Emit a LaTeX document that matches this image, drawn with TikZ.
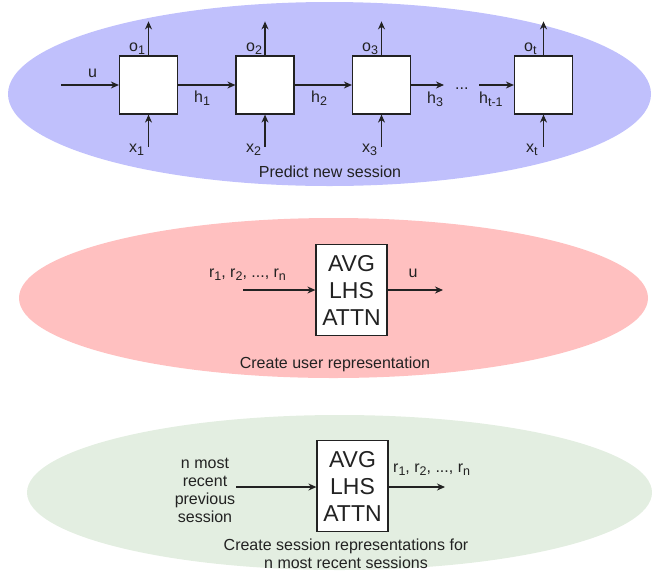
\documentclass[tikz,border=0pt]{standalone}
\usepackage{fontspec}
\setmainfont{Liberation Sans}
\usetikzlibrary{arrows.meta,shapes.geometric}

\definecolor{blueblob}{RGB}{192,192,252}
\definecolor{pinkblob}{RGB}{255,192,192}
\definecolor{greenblob}{RGB}{227,238,225}
\definecolor{ink}{RGB}{34,34,34}

% lowered, smaller index text
\newcommand\lowsub[1]{\raisebox{-0.45ex}{\fontsize{12.5}{12.5}\selectfont #1}}

\begin{document}
\begin{tikzpicture}[x=1pt,y=-1pt,
  font=\fontsize{16}{18}\selectfont,
  txt/.style={text=ink, inner sep=0pt},
  blob/.style={ellipse, draw=none, inner sep=0pt},
  cell/.style={draw=ink, line width=1.2pt, fill=white,
    minimum width=58pt, minimum height=58pt, inner sep=0pt},
  agg/.style={draw=ink, line width=1.2pt, fill=white,
    minimum width=71pt, minimum height=91pt, align=center,
    font=\fontsize{23}{27}\selectfont, text=ink, inner sep=0pt},
  flow/.style={draw=ink, line width=1.2pt, -{Stealth[length=8pt,width=7pt]}},
]
\useasboundingbox (0,0) rectangle (652,576);

% ---- background regions
\node[blob, fill=blueblob, minimum width=643pt, minimum height=184pt] (predict) at (329.5,94) {};
\node[blob, fill=pinkblob, minimum width=629pt, minimum height=160pt] (user) at (333.5,298) {};
\node[blob, fill=greenblob, minimum width=625pt, minimum height=155pt] (sess) at (339.5,492.5) {};

% ---- recurrent chain
\node[cell] (c1) at (148.5,85) {};
\node[cell] (c2) at (265,85) {};
\node[cell] (c3) at (381.5,85) {};
\node[cell] (c4) at (543.5,85) {};

\coordinate (uin) at (61,85);
\draw[flow] (uin) -- (c1.west);
\draw[flow] (c1.east) -- (c2.west);
\draw[flow] (c2.east) -- (c3.west);
\coordinate (h3end) at (444,85);
\coordinate (htstart) at (479,85);
\draw[flow] (c3.east) -- (h3end);
\draw[flow] (htstart) -- (c4.west);

% outputs leave upwards, inputs enter from below
\foreach \c in {c1,c2,c3,c4}{
  \coordinate (\c-out) at ([yshift=34pt]\c.north);
  \coordinate (\c-in) at ([yshift=-32pt]\c.south);
  \draw[flow] (\c.north) -- (\c-out);
  \draw[flow] (\c-in) -- (\c.south);
}

\node[txt, anchor=base west] (lu) at (88,77) {u};
\node[txt, anchor=base west] (lo1) at (129,51) {o\lowsub{1}};
\node[txt, anchor=base west] (lo2) at (246,51) {o\lowsub{2}};
\node[txt, anchor=base west] (lo3) at (362,51) {o\lowsub{3}};
\node[txt, anchor=base west] (lot) at (524,51) {o\lowsub{t}};
\node[txt, anchor=base west] (lx1) at (129,152) {x\lowsub{1}};
\node[txt, anchor=base west] (lx2) at (246,152) {x\lowsub{2}};
\node[txt, anchor=base west] (lx3) at (362,152) {x\lowsub{3}};
\node[txt, anchor=base west] (lxt) at (526,152) {x\lowsub{t}};
\node[txt, anchor=base west] (lh1) at (194,102) {h\lowsub{1}};
\node[txt, anchor=base west] (lh2) at (311,102) {h\lowsub{2}};
\node[txt, anchor=base west] (lh3) at (427,103) {h\lowsub{3}};
\node[txt, anchor=base west] (ldots) at (455,89) {...};
\node[txt, anchor=base west] (lht) at (479,103) {h\lowsub{t-1}};
\node[txt, anchor=base] (lpredict) at (330,177) {Predict new session};

% ---- user representation
\node[agg] (uagg) at (351.5,290) {AVG\\LHS\\ATTN};
\coordinate (rin) at (243,290);
\coordinate (uout) at (443,290);
\draw[flow] (rin) -- (uagg.west);
\draw[flow] (uagg.east) -- (uout);
\node[txt, anchor=base] (lrin) at (247.5,277) {r\lowsub{1}, r\lowsub{2}, ..., r\lowsub{n}};
\node[txt, anchor=base] (luout) at (413,277) {u};
\node[txt, anchor=base] (luser) at (335,368) {Create user representation};

% ---- session representations
\node[agg] (sagg) at (352.5,486) {AVG\\LHS\\ATTN};
\coordinate (sin) at (236,487);
\coordinate (sout) at (445,487);
\draw[flow] (sin) -- (sagg.west |- sin);
\draw[flow] (sagg.east |- sout) -- (sout);
\node[txt, align=center] (lsin) at (205,490) {n most\\recent\\previous\\session};
\node[txt, anchor=base west] (lsout) at (393,472) {r\lowsub{1}, r\lowsub{2}, ..., r\lowsub{n}};
\node[txt, align=center] (lsess) at (346,554) {Create session representations for\\n most recent sessions};
\end{tikzpicture}
\end{document}
